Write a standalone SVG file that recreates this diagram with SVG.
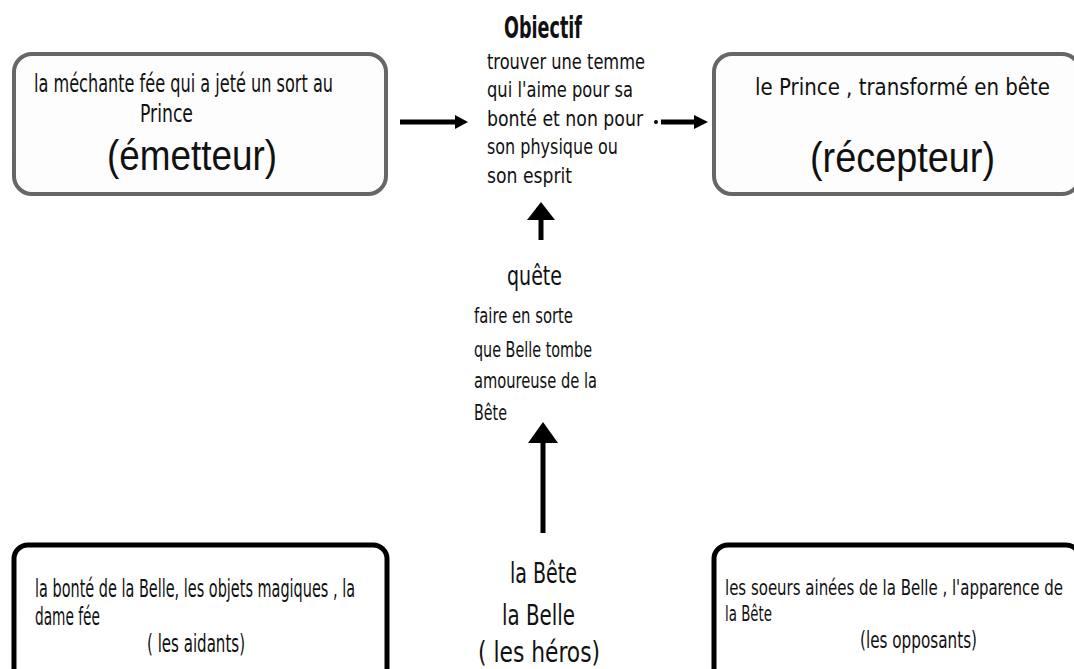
<svg xmlns="http://www.w3.org/2000/svg" width="1074" height="669" viewBox="0 0 1074 669">
<defs>
<style>
.t{font-family:"Liberation Sans","DejaVu Sans",sans-serif;fill:#111;}
.c{font-family:"DejaVu Sans Condensed","Liberation Sans",sans-serif;font-stretch:condensed;fill:#111;}
.b{font-weight:bold;}
.gbox{fill:#fdfdfd;stroke:#666;stroke-width:4;}
.kbox{fill:#fff;stroke:#000;stroke-width:5;}
.ln{stroke:#000;stroke-width:5;fill:none;}
</style>
</defs>
<rect width="1074" height="669" fill="#fff"/>
<g id="emetteur">
<rect class="gbox" x="14" y="54" width="372" height="140" rx="18"/>
<text class="c" x="34" y="92" font-size="25" textLength="299" lengthAdjust="spacingAndGlyphs">la méchante fée qui a jeté un sort au</text>
<text class="c" x="140" y="122" font-size="25" textLength="53" lengthAdjust="spacingAndGlyphs">Prince</text>
<text class="t" x="107" y="170" font-size="42" textLength="170" lengthAdjust="spacingAndGlyphs">(émetteur)</text>
</g>
<g id="recepteur">
<rect class="gbox" x="714" y="54" width="366" height="140" rx="18"/>
<text class="c" x="755" y="95" font-size="23" textLength="295" lengthAdjust="spacingAndGlyphs">le Prince , transformé en bête</text>
<text class="t" x="810" y="172" font-size="42" textLength="185" lengthAdjust="spacingAndGlyphs">(récepteur)</text>
</g>
<g id="objectif">
<text class="c b" x="504" y="38" font-size="30" textLength="78" lengthAdjust="spacingAndGlyphs">Obiectif</text>
<text class="c" x="487" y="69" font-size="22" textLength="158" lengthAdjust="spacingAndGlyphs">trouver une temme</text>
<text class="c" x="487" y="97" font-size="22" textLength="146" lengthAdjust="spacingAndGlyphs">qui l'aime pour sa</text>
<text class="c" x="487" y="126" font-size="22" textLength="156" lengthAdjust="spacingAndGlyphs">bonté et non pour</text>
<text class="c" x="487" y="154" font-size="22" textLength="131" lengthAdjust="spacingAndGlyphs">son physique ou</text>
<text class="c" x="487" y="183" font-size="22" textLength="85" lengthAdjust="spacingAndGlyphs">son esprit</text>
</g>
<g id="quete">
<text class="c" x="507" y="285" font-size="27" textLength="55" lengthAdjust="spacingAndGlyphs">quête</text>
<text class="c" x="474" y="323" font-size="22" textLength="99" lengthAdjust="spacingAndGlyphs">faire en sorte</text>
<text class="c" x="474" y="357" font-size="22" textLength="118" lengthAdjust="spacingAndGlyphs">que Belle tombe</text>
<text class="c" x="474" y="388" font-size="22" textLength="123" lengthAdjust="spacingAndGlyphs">amoureuse de la</text>
<text class="c" x="474" y="420" font-size="22" textLength="33" lengthAdjust="spacingAndGlyphs">Bête</text>
</g>
<g id="heros">
<text class="c" x="510" y="583" font-size="28" textLength="67" lengthAdjust="spacingAndGlyphs">la Bête</text>
<text class="c" x="502" y="625" font-size="28" textLength="73" lengthAdjust="spacingAndGlyphs">la Belle</text>
<text class="c" x="478" y="662" font-size="28" textLength="122" lengthAdjust="spacingAndGlyphs">( les héros)</text>
</g>
<g id="aidants">
<rect class="kbox" x="14" y="545" width="373" height="150" rx="14"/>
<text class="c" x="35" y="597" font-size="24" textLength="320" lengthAdjust="spacingAndGlyphs">la bonté de la Belle, les objets magiques , la</text>
<text class="c" x="35" y="625" font-size="24" textLength="65" lengthAdjust="spacingAndGlyphs">dame fée</text>
<text class="c" x="147" y="652" font-size="24" textLength="98" lengthAdjust="spacingAndGlyphs">( les aidants)</text>
</g>
<g id="opposants">
<rect class="kbox" x="714" y="545" width="366" height="150" rx="14"/>
<text class="c" x="725" y="595" font-size="22" textLength="338" lengthAdjust="spacingAndGlyphs">les soeurs ainées de la Belle , l'apparence de</text>
<text class="c" x="725" y="621" font-size="22" textLength="47" lengthAdjust="spacingAndGlyphs">la Bête</text>
<text class="c" x="860" y="648" font-size="23" textLength="117" lengthAdjust="spacingAndGlyphs">(les opposants)</text>
</g>
<g id="connectors">
<line class="ln" x1="400" y1="122" x2="458" y2="122"/>
<polygon points="455,115 468,122 455,129"/>
<circle cx="656" cy="122" r="2"/>
<line class="ln" x1="661" y1="122" x2="697" y2="122"/>
<polygon points="694,115 708,122 694,129"/>
<line class="ln" x1="541" y1="218" x2="541" y2="240"/>
<polygon points="527,220 541,202 555,220"/>
<line class="ln" x1="543" y1="441" x2="543" y2="533"/>
<polygon points="528,443 543,422 558,443"/>
</g>
</svg>
